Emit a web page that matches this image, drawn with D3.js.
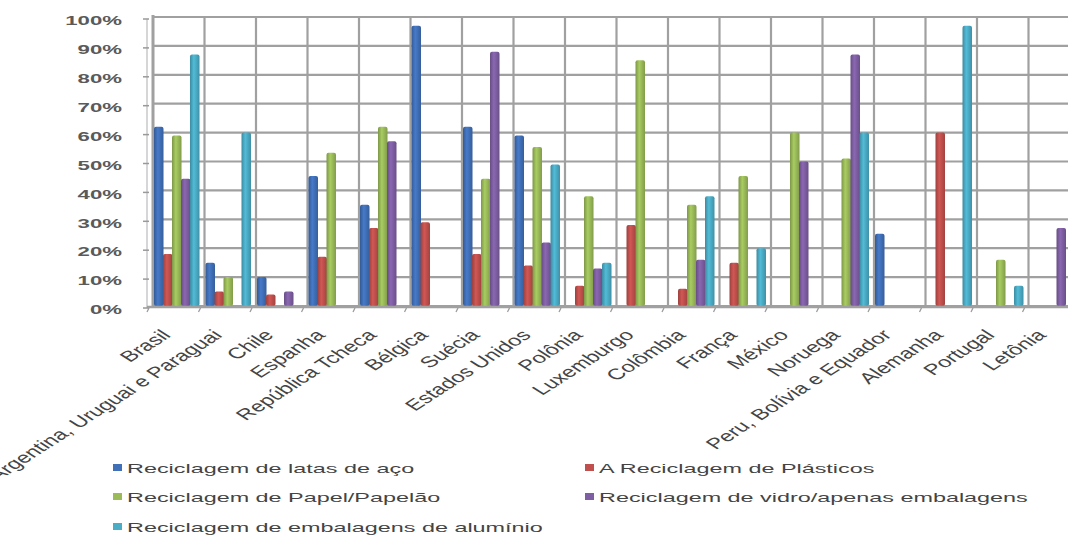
<!DOCTYPE html>
<html>
<head>
<meta charset="utf-8">
<script src="https://cdn.jsdelivr.net/npm/d3@7"></script>
<style>
  html, body { margin: 0; padding: 0; background: #fff; }
  svg { display: block; }
</style>
</head>
<body>
<svg id="chart" width="1068" height="538"></svg>
<script>
const categories = ["Brasil", "Argentina, Uruguai e Paraguai", "Chile", "Espanha", "República Tcheca", "Bélgica", "Suécia", "Estados Unidos", "Polônia", "Luxemburgo", "Colômbia", "França", "México", "Noruega", "Peru, Bolívia e Equador", "Alemanha", "Portugal", "Letônia"];
const seriesNames = ["Reciclagem de latas de aço", "A Reciclagem de Plásticos", "Reciclagem de Papel/Papelão", "Reciclagem de vidro/apenas embalagens", "Reciclagem de embalagens de alumínio"];
const seriesColors = ["#4070b8", "#c0504d", "#9bbb59", "#7f5fa3", "#4bacc6"];
const steelCans = [62, 15, 10, 45, 35, 97, 62, 59, 0, 0, 0, 0, 0, 0, 25, 0, 0, 0];
const plastics = [18, 5, 4, 17, 27, 29, 18, 14, 7, 28, 6, 15, 0, 0, 0, 60, 0, 0];
const paper = [59, 10, 0, 53, 62, 0, 44, 55, 38, 85, 35, 45, 60, 51, 0, 0, 16, 0];
const glass = [44, 0, 5, 0, 57, 0, 88, 22, 13, 0, 16, 0, 50, 87, 0, 0, 0, 27];
const aluminium = [87, 60, 0, 0, 0, 0, 0, 49, 15, 0, 38, 20, 0, 60, 0, 97, 7, 0];
const yTicks = [0, 10, 20, 30, 40, 50, 60, 70, 80, 90, 100];

const seriesValues = [steelCans, plastics, paper, glass, aluminium];

const svg = d3.select("#chart");
const plotLeft = 153, plotRight = 1080, plotTop = 17, plotBottom = 306;

const x = d3.scaleBand().domain(categories).range([plotLeft, plotRight]).padding(0);
const inner = d3.scaleBand().domain(d3.range(seriesNames.length)).range([1, 46]).padding(0);
const y = d3.scaleLinear().domain([0, 100]).range([plotBottom, plotTop]);

// gradients for cylinder look
const defs = svg.append("defs");
seriesColors.forEach((c, i) => {
  const g = defs.append("linearGradient").attr("id", "g" + i).attr("x1", 0).attr("x2", 1).attr("y1", 0).attr("y2", 0);
  const base = d3.color(c);
  g.append("stop").attr("offset", "0%").attr("stop-color", base.darker(0.6));
  g.append("stop").attr("offset", "40%").attr("stop-color", base.brighter(0.25));
  g.append("stop").attr("offset", "100%").attr("stop-color", base.darker(0.5));
});

const grid = svg.append("g").attr("stroke", "#a0a0a0").attr("stroke-width", 2.2);
grid.selectAll("line.h").data(yTicks).join("line")
  .attr("x1", plotLeft).attr("x2", 1068)
  .attr("y1", d => y(d)).attr("y2", d => y(d));
grid.selectAll("line.v").data(categories.slice(1)).join("line")
  .attr("x1", d => x(d)).attr("x2", d => x(d))
  .attr("y1", plotTop).attr("y2", plotBottom);
grid.append("line").attr("x1", plotLeft).attr("x2", plotLeft).attr("y1", plotTop - 2).attr("y2", plotBottom + 2).attr("stroke-width", 3);
grid.append("line").attr("x1", plotLeft - 6).attr("x2", plotLeft - 6).attr("y1", plotTop + 2).attr("y2", plotBottom + 2).attr("stroke-width", 1.2).attr("stroke", "#bbb");

// y tick marks and labels
svg.append("g").attr("stroke", "#999").attr("stroke-width", 1.5)
  .selectAll("line").data(yTicks).join("line")
  .attr("x1", plotLeft - 10).attr("x2", plotLeft - 4)
  .attr("y1", d => y(d) + 2).attr("y2", d => y(d) + 2);

svg.append("g").selectAll("text").data(yTicks).join("text")
  .attr("transform", d => `translate(122,${y(d) + 4}) scale(1.85,1)`)
  .attr("text-anchor", "end")
  .attr("dy", "0.35em")
  .attr("font-family", "Liberation Sans, Arial, sans-serif")
  .attr("font-size", 12)
  .attr("font-weight", "bold")
  .attr("fill", "#5a5a5a")
  .text(d => d + "%");

// bars
const bars = svg.append("g");
seriesValues.forEach((vals, si) => {
  bars.append("g").selectAll("rect").data(vals.map((v, i) => ({ c: categories[i], v })).filter(d => d.v > 0)).join("rect")
    .attr("x", d => x(d.c) + inner(si))
    .attr("width", inner.bandwidth() + 0.5)
    .attr("y", d => y(d.v))
    .attr("height", d => y(0) - y(d.v))
    .attr("rx", 2)
    .attr("fill", `url(#g${si})`);
});

// floor line and ticks
svg.append("line").attr("x1", plotLeft - 6).attr("x2", 1068).attr("y1", plotBottom + 1).attr("y2", plotBottom + 1)
  .attr("stroke", "#a0a0a0").attr("stroke-width", 2.5);
svg.append("g").attr("stroke", "#999").attr("stroke-width", 1.2)
  .selectAll("line").data(categories).join("line")
  .attr("x1", d => x(d) - 6).attr("x2", d => x(d) - 4)
  .attr("y1", plotBottom + 6).attr("y2", plotBottom + 2);

// x labels
svg.append("g").selectAll("text").data(categories).join("text")
  .attr("transform", d => `translate(${x(d) + x.bandwidth() / 2 - 7},336) scale(1.55,1) rotate(-45)`)
  .attr("text-anchor", "end")
  .attr("font-family", "Liberation Sans, Arial, sans-serif")
  .attr("font-size", 15.3)
  .attr("fill", "#444")
  .text(d => d);

// legend
const legendCols = [113, 585];
const legendRows = [468, 497, 527];
const legend = svg.append("g");
seriesNames.forEach((name, i) => {
  const lx = legendCols[i % 2], ly = legendRows[Math.floor(i / 2)];
  const g = legend.append("g");
  g.append("rect").attr("x", lx).attr("y", ly - 4).attr("width", 9).attr("height", 7).attr("fill", seriesColors[i]);
  g.append("text")
    .attr("transform", `translate(${lx + 14},${ly}) scale(1.8,1)`)
    .attr("dy", "0.35em")
    .attr("font-family", "Liberation Sans, Arial, sans-serif")
    .attr("font-size", 13)
    .attr("fill", "#444")
    .text(name);
});
</script>
</body>
</html>
